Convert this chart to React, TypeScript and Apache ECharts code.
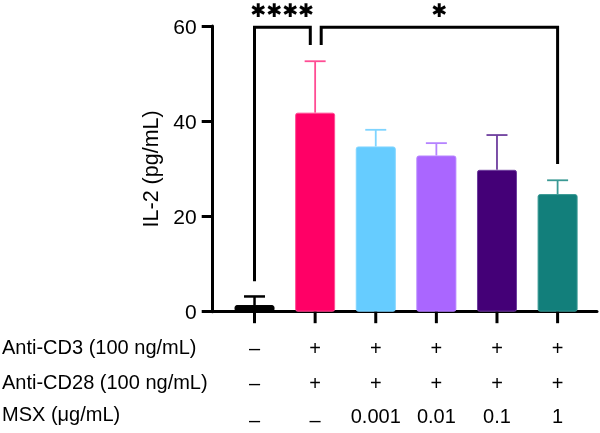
import React, { useEffect, useRef } from "react";
import * as echarts from "echarts";

const categories = ["Control", "Anti-CD3/CD28", "MSX 0.001", "MSX 0.01", "MSX 0.1", "MSX 1"];
const means = [1.4, 41.8, 34.7, 32.8, 29.8, 24.7];
const sds = [1.8, 10.8, 3.5, 2.6, 7.3, 2.9];
const barColors = ["#000000", "#FF0066", "#66CCFF", "#AA66FF", "#440077", "#127F7B"];
const errColors = ["#000000", "#FF4D94", "#7FD4FF", "#B583FF", "#6E3E9E", "#3A9994"];
const yTicks = [0, 20, 40, 60];
const rowTitles = ["Anti-CD3 (100 ng/mL)", "Anti-CD28 (100 ng/mL)", "MSX (\u03bcg/mL)"];
const antiCD3 = ["\u2013", "+", "+", "+", "+", "+"];
const antiCD28 = ["\u2013", "+", "+", "+", "+", "+"];
const msx = ["\u2013", "\u2013", "0.001", "0.01", "0.1", "1"];
const bracket1X = [0, 0, 0.92, 0.92];
const bracket1Y = [6.4, 59.75, 59.75, 56];
const bracket2X = [1.1, 1.1, 5, 5];
const bracket2Y = [56, 59.75, 59.75, 31];
const starLabels = ["\u2731\u2731\u2731\u2731", "\u2731"];
const starX = [0.46, 3.05];

const FONT = "'Liberation Sans', Arial, Helvetica, sans-serif";

export default function App() {
  const ref = useRef<HTMLDivElement>(null);
  useEffect(() => {
    if (!ref.current) return;
    const chart = echarts.init(ref.current, null, { renderer: "svg" });
    const rows = [antiCD3, antiCD28, msx];
    const rowOffsets = [36.5, 71.5, 104];
    const option: any = {
      animation: false,
      grid: { left: 212.7, right: 3, top: 26, bottom: 121.3, containLabel: false },
      xAxis: {
        type: "value",
        min: -0.69,
        max: 5.65,
        axisLine: { show: true, onZero: false, lineStyle: { color: "#000", width: 3 } },
        axisTick: { show: false },
        axisLabel: { show: false },
        splitLine: { show: false },
      },
      yAxis: {
        type: "value",
        min: yTicks[0],
        max: yTicks[yTicks.length - 1],
        interval: 20,
        name: "IL-2 (pg/mL)",
        nameLocation: "middle",
        nameGap: 49,
        nameTextStyle: { fontFamily: FONT, fontSize: 21.5, color: "#000" },
        axisLine: { show: true, onZero: false, lineStyle: { color: "#000", width: 3 } },
        axisTick: { show: true, inside: false, length: 11, lineStyle: { color: "#000", width: 3 } },
        axisLabel: { margin: 16, fontFamily: FONT, fontSize: 21, color: "#000" },
        splitLine: { show: false },
      },
      graphic: rowTitles.map((t, i) => ({
        type: "text",
        left: 2,
        top: 311.7 + rowOffsets[i] - 11.5,
        style: { text: t, fontFamily: FONT, fontSize: 20, fill: "#000" },
      })),
      series: [
        {
          type: "bar",
          barWidth: 40,
          z: 2,
          data: means.map((m, i) => ({
            value: [i, m],
            itemStyle: { color: barColors[i], borderColor: errColors[i], borderWidth: 1, borderRadius: 2 },
          })),
        },
        {
          type: "custom",
          z: 3,
          data: means.map((m, i) => [i, m, m + sds[i]]),
          renderItem: (params: any, api: any) => {
            const i = params.dataIndex;
            const p0 = api.coord([api.value(0), api.value(1)]);
            const p1 = api.coord([api.value(0), api.value(2)]);
            const c = errColors[i];
            const w = i === 0 ? 2.5 : 1.8;
            return {
              type: "group",
              children: [
                { type: "line", shape: { x1: p0[0], y1: p0[1], x2: p1[0], y2: p1[1] }, style: { stroke: c, lineWidth: w } },
                { type: "line", shape: { x1: p1[0] - 10.5, y1: p1[1], x2: p1[0] + 10.5, y2: p1[1] }, style: { stroke: c, lineWidth: w } },
              ],
            };
          },
        },
        {
          type: "custom",
          z: 4,
          data: categories.map((_, i) => [i, 0]),
          renderItem: (params: any, api: any) => {
            const i = params.dataIndex;
            const p = api.coord([api.value(0), 0]);
            const children: any[] = [
              { type: "line", shape: { x1: p[0], y1: p[1], x2: p[0], y2: p[1] + 11.5 }, style: { stroke: "#000", lineWidth: 3 } },
            ];
            rows.forEach((r, k) => {
              children.push({
                type: "text",
                style: {
                  text: r[i],
                  x: p[0],
                  y: p[1] + rowOffsets[k] + (r[i] === "\u2013" && k === 2 ? 4 : 0),
                  align: "center",
                  verticalAlign: "middle",
                  fontFamily: FONT,
                  fontSize: 20,
                  fill: "#000",
                },
              });
            });
            return { type: "group", children };
          },
        },
        {
          type: "line",
          z: 5,
          data: bracket1X.map((x, i) => [x, bracket1Y[i]]),
          showSymbol: false,
          symbol: "none",
          lineStyle: { color: "#000", width: 3, join: "miter" },
        },
        {
          type: "line",
          z: 5,
          data: bracket2X.map((x, i) => [x, bracket2Y[i]]),
          showSymbol: false,
          symbol: "none",
          lineStyle: { color: "#000", width: 3, join: "miter" },
        },
        {
          type: "custom",
          z: 6,
          data: starX.map((x, i) => [x, 59.75, i]),
          renderItem: (params: any, api: any) => {
            const i = params.dataIndex;
            const p = api.coord([api.value(0), api.value(1)]);
            return {
              type: "text",
              style: {
                text: starLabels[i],
                x: p[0],
                y: p[1] - 16.8,
                align: "center",
                verticalAlign: "middle",
                fontFamily: "'DejaVu Sans', sans-serif",
                fontWeight: "bold",
                fontSize: 19,
                fill: "#000",
              },
            };
          },
        },
      ],
    };
    chart.setOption(option);
    return () => chart.dispose();
  }, []);
  return <div ref={ref} style={{ position: "fixed", left: 0, top: 0, width: 600, height: 433 }} />;
}
